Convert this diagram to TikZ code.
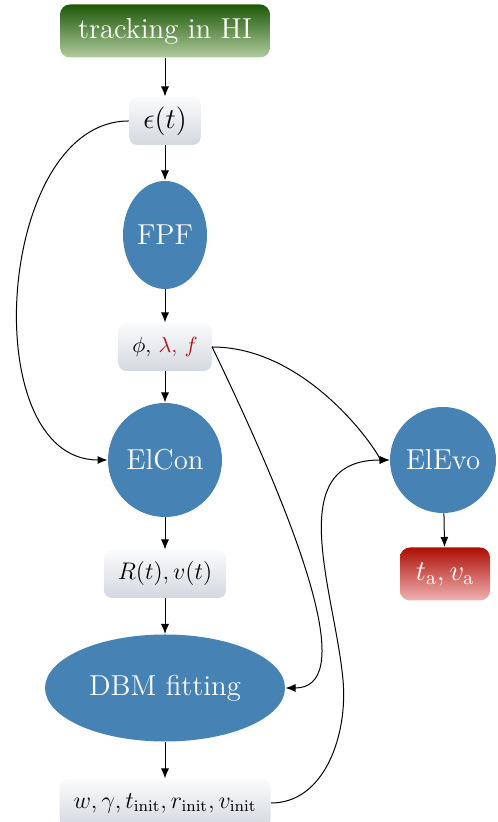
\documentclass[tikz,border=0pt]{standalone}
\usepackage{amsmath}
\usepackage{tikz}
\usetikzlibrary{shapes.geometric}
\usetikzlibrary{arrows.meta}

\definecolor{steelblue}{RGB}{70,130,180}
\definecolor{hidark}{RGB}{30,88,8}
\definecolor{hilight}{RGB}{176,204,158}
\definecolor{resdark}{RGB}{172,14,4}
\definecolor{reslight}{RGB}{240,178,178}
\definecolor{boxlight}{RGB}{250,251,252}
\definecolor{boxdark}{RGB}{212,216,223}
\definecolor{lamred}{RGB}{180,20,20}

\begin{document}
\begin{tikzpicture}[x=0.5pt,y=0.5pt,>={Latex[length=5pt,width=4pt]},line width=0.5pt,
    data/.style={rectangle,rounded corners=4pt,top color=boxlight,bottom color=boxdark,
      font=\large,inner xsep=7pt,minimum width=35pt,minimum height=24pt},
    proc/.style={fill=steelblue,text=white,font=\Large,inner sep=0pt},
    result/.style={rectangle,rounded corners=5pt,text=white,font=\Large,minimum height=26.5pt}]
  \useasboundingbox (0,0) rectangle (497,822);
  \node[result,top color=hidark,bottom color=hilight,minimum width=105pt] (track) at (165,791) {tracking in HI};
  \node[data,font=\Large] (eps) at (165,701) {$\epsilon(t)$};
  \node[proc,ellipse,minimum width=42pt,minimum height=54pt] (fpf) at (165,587) {FPF};
  \node[data,font=\fontsize{11}{13}\selectfont] (phi) at (165,475) {$\phi$, {\color{lamred}$\lambda$, $f$}};
  \node[proc,circle,minimum size=57pt] (elcon) at (165,362) {ElCon};
  \node[proc,circle,minimum size=53pt] (elevo) at (443,362) {ElEvo};
  \node[data,font=\fontsize{11.5}{14}\selectfont] (rv) at (165,248) {$R(t), v(t)$};
  \node[proc,ellipse,minimum width=120pt,minimum height=53.5pt] (dbm) at (165,134) {DBM fitting};
  \node[data] (fit) at (165,19) {$w, \gamma, t_\mathrm{init}, r_\mathrm{init}, v_\mathrm{init}$};
  \node[result,top color=resdark,bottom color=reslight,minimum width=45pt] (ta) at (445,248) {$t_\mathrm{a}, v_\mathrm{a}$};
  \coordinate (bend) at (343,142);

  \draw[->] (track) -- (eps);
  \draw[->] (eps) -- (fpf);
  \draw[->] (fpf) -- (phi);
  \draw[->] (phi) -- (elcon);
  \draw[->] (elcon) -- (rv);
  \draw[->] (rv) -- (dbm);
  \draw[->] (dbm) -- (fit);
  \draw[->] (elevo) -- (ta);
  \draw[->] (eps.west) to[out=180,in=180] (elcon.west);
  \draw[->] (phi.east) .. controls +(103,-213) and +(67,0) .. (dbm.east);
  \draw[->] (phi.east) .. controls +(100,0) and +(-6,0) .. (elevo.west);
  \draw[->] (fit.east) .. controls +(54,0) and +(5,-54) .. (bend)
    .. controls +(-8,88) and +(-108,0) .. (elevo.west);
\end{tikzpicture}
\end{document}
